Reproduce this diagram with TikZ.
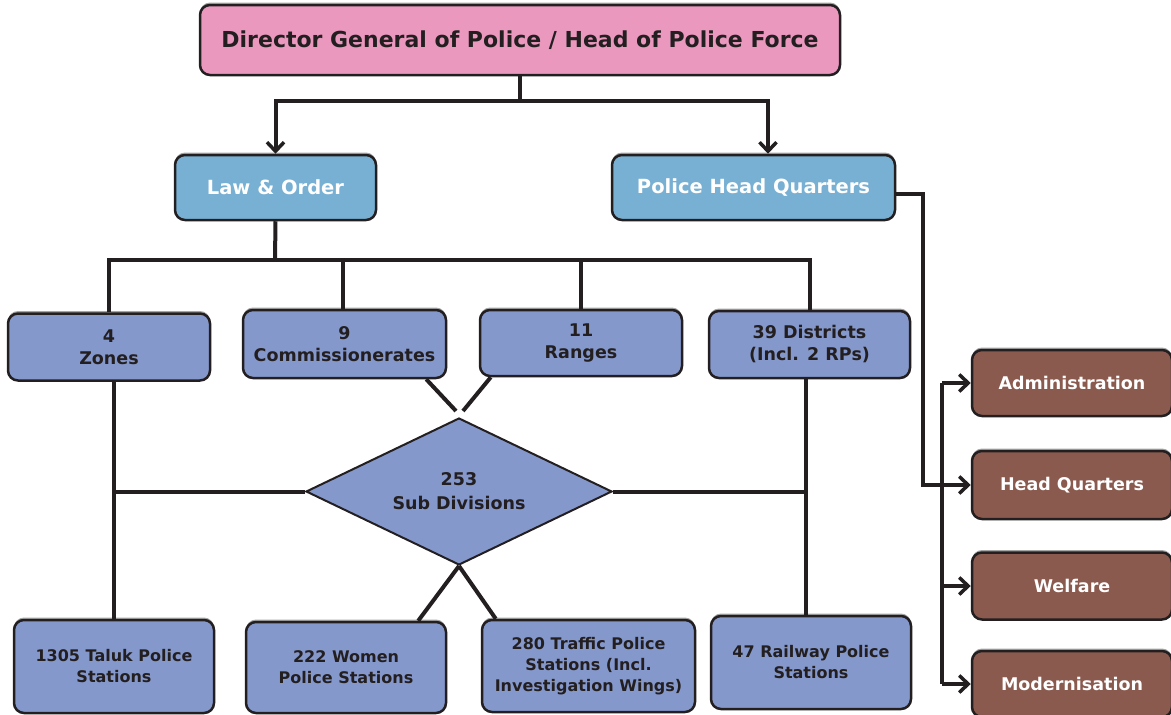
\documentclass[tikz,border=0pt]{standalone}
\usepackage{fontspec}
\setmainfont{DejaVu Sans}
\usetikzlibrary{shapes.geometric,arrows.meta,calc,shadows}
\definecolor{pinkc}{RGB}{234,152,190}
\definecolor{lbluec}{RGB}{120,176,211}
\definecolor{periw}{RGB}{133,152,204}
\definecolor{brownc}{RGB}{139,90,78}
\definecolor{linec}{RGB}{35,31,32}
\begin{document}
\begin{tikzpicture}[x=1pt,y=-1pt,
  box/.style={draw=linec, line width=2.5pt, rounded corners=10pt, align=center,
    text=linec, inner sep=0pt, fill=periw,
    drop shadow={shadow xshift=0pt, shadow yshift=2.5pt, fill=black!35, opacity=1},
    font=\bfseries\fontsize{17.5}{22}\selectfont},
  topbox/.style={box, fill=pinkc, font=\bfseries\fontsize{22}{26}\selectfont},
  midbox/.style={box, fill=lbluec, text=white, font=\bfseries\fontsize{19.5}{24}\selectfont},
  lowbox/.style={box, font=\bfseries\fontsize{16}{21}\selectfont},
  brbox/.style={box, fill=brownc, text=white},
  conn/.style={draw=linec, line width=4pt},
  arr/.style={conn, -{Straight Barb[length=9pt,width=17pt,line width=3.5pt]}}
]
\useasboundingbox (0,0) rectangle (1171,715);
\clip (0,0) rectangle (1171,715);

% nodes
\node[topbox, minimum width=640, minimum height=70] (dg) at (520,40) {Director General of Police / Head of Police Force};
\node[midbox, minimum width=201, minimum height=65] (lo) at (275.5,187.5) {Law \& Order};
\node[midbox, minimum width=283, minimum height=65] (phq) at (753.5,187.5) {Police Head Quarters};

\node[box, minimum width=202, minimum height=67] (zones) at (109,347) {4\\Zones};
\node[box, minimum width=203, minimum height=68] (comm) at (344.5,344) {9\\Commissionerates};
\node[box, minimum width=202, minimum height=66] (ranges) at (581,343) {11\\Ranges};
\node[box, minimum width=201, minimum height=67] (dist) at (809.5,344.5) {39 Districts\\(Incl. 2 RPs)};

\node[draw=linec, line width=2pt, fill=periw, shape=diamond, aspect=2, minimum width=306, minimum height=147,
      inner sep=0pt, align=center, text=linec, font=\bfseries\fontsize{17.5}{24}\selectfont] (sub) at (459,491.5) {253\\Sub Divisions};

\node[lowbox, minimum width=200, minimum height=93] (taluk) at (114,666.5) {1305 Taluk Police\\Stations};
\node[lowbox, minimum width=200, minimum height=91] (women) at (346,667.5) {222 Women\\Police Stations};
\node[lowbox, minimum width=213, minimum height=92] (traffic) at (588.5,666) {280 Traffic Police\\Stations (Incl.\\Investigation Wings)};
\node[lowbox, minimum width=200, minimum height=93] (rail) at (811,662.5) {47 Railway Police\\Stations};

\node[brbox, minimum width=200, minimum height=66] (adm) at (1072,383) {Administration};
\node[brbox, minimum width=200, minimum height=68] (hq) at (1072,485) {Head Quarters};
\node[brbox, minimum width=200, minimum height=67] (wel) at (1072,586) {Welfare};
\node[brbox, minimum width=200, minimum height=66] (mod) at (1072,684) {Modernisation};

% top connectors
\coordinate (b1) at (520,101);
\draw[conn] (dg.south) -- (b1);
\draw[arr] (b1) -| (lo.north);
\draw[arr] (b1) -| ([xshift=14.5pt]phq.north);

% law & order bus
\coordinate (b2) at (275,260);
\draw[conn] (lo.south) -- (b2);
\draw[conn] (b2) -| (zones.north);
\draw[conn] (b2) -| ([xshift=-2pt]comm.north);
\draw[conn] (b2) -| (ranges.north);
\draw[conn] (b2) -| (dist.north);

% into diamond
\draw[conn] ([xshift=-21pt]comm.south east) -- ($(sub.north)+(-3,-6)$);
\draw[conn] ([xshift=12pt]ranges.south west) -- ($(sub.north)+(4,-6)$);

% out of diamond
\draw[conn] (sub.south) -- ([xshift=-29pt]women.north east);
\draw[conn] (sub.south) -- ([xshift=15pt]traffic.north west);

% left branch
\draw[conn] (taluk.north) -- (taluk.north |- zones.south);
\draw[conn] (sub.west) -- (sub.west -| taluk.north);

% right branch
\coordinate (rv) at ([xshift=-4pt]dist.south);
\draw[conn] (rv) -- (rv |- rail.north);
\draw[conn] (sub.east) -- (sub.east -| rv);

% police head quarters branch
\coordinate (pv0) at (923,200);
\coordinate (bx) at (942,0);
\draw[conn] (adm.west -| bx) -- (mod.west -| bx);
\draw[arr] ([yshift=-6pt]phq.east) -| (hq.west -| pv0) -- (hq.west);
\draw[arr] (adm.west -| bx) -- (adm.west);
\draw[arr] (wel.west -| bx) -- (wel.west);
\draw[arr] (mod.west -| bx) -- (mod.west);
\end{tikzpicture}
\end{document}
